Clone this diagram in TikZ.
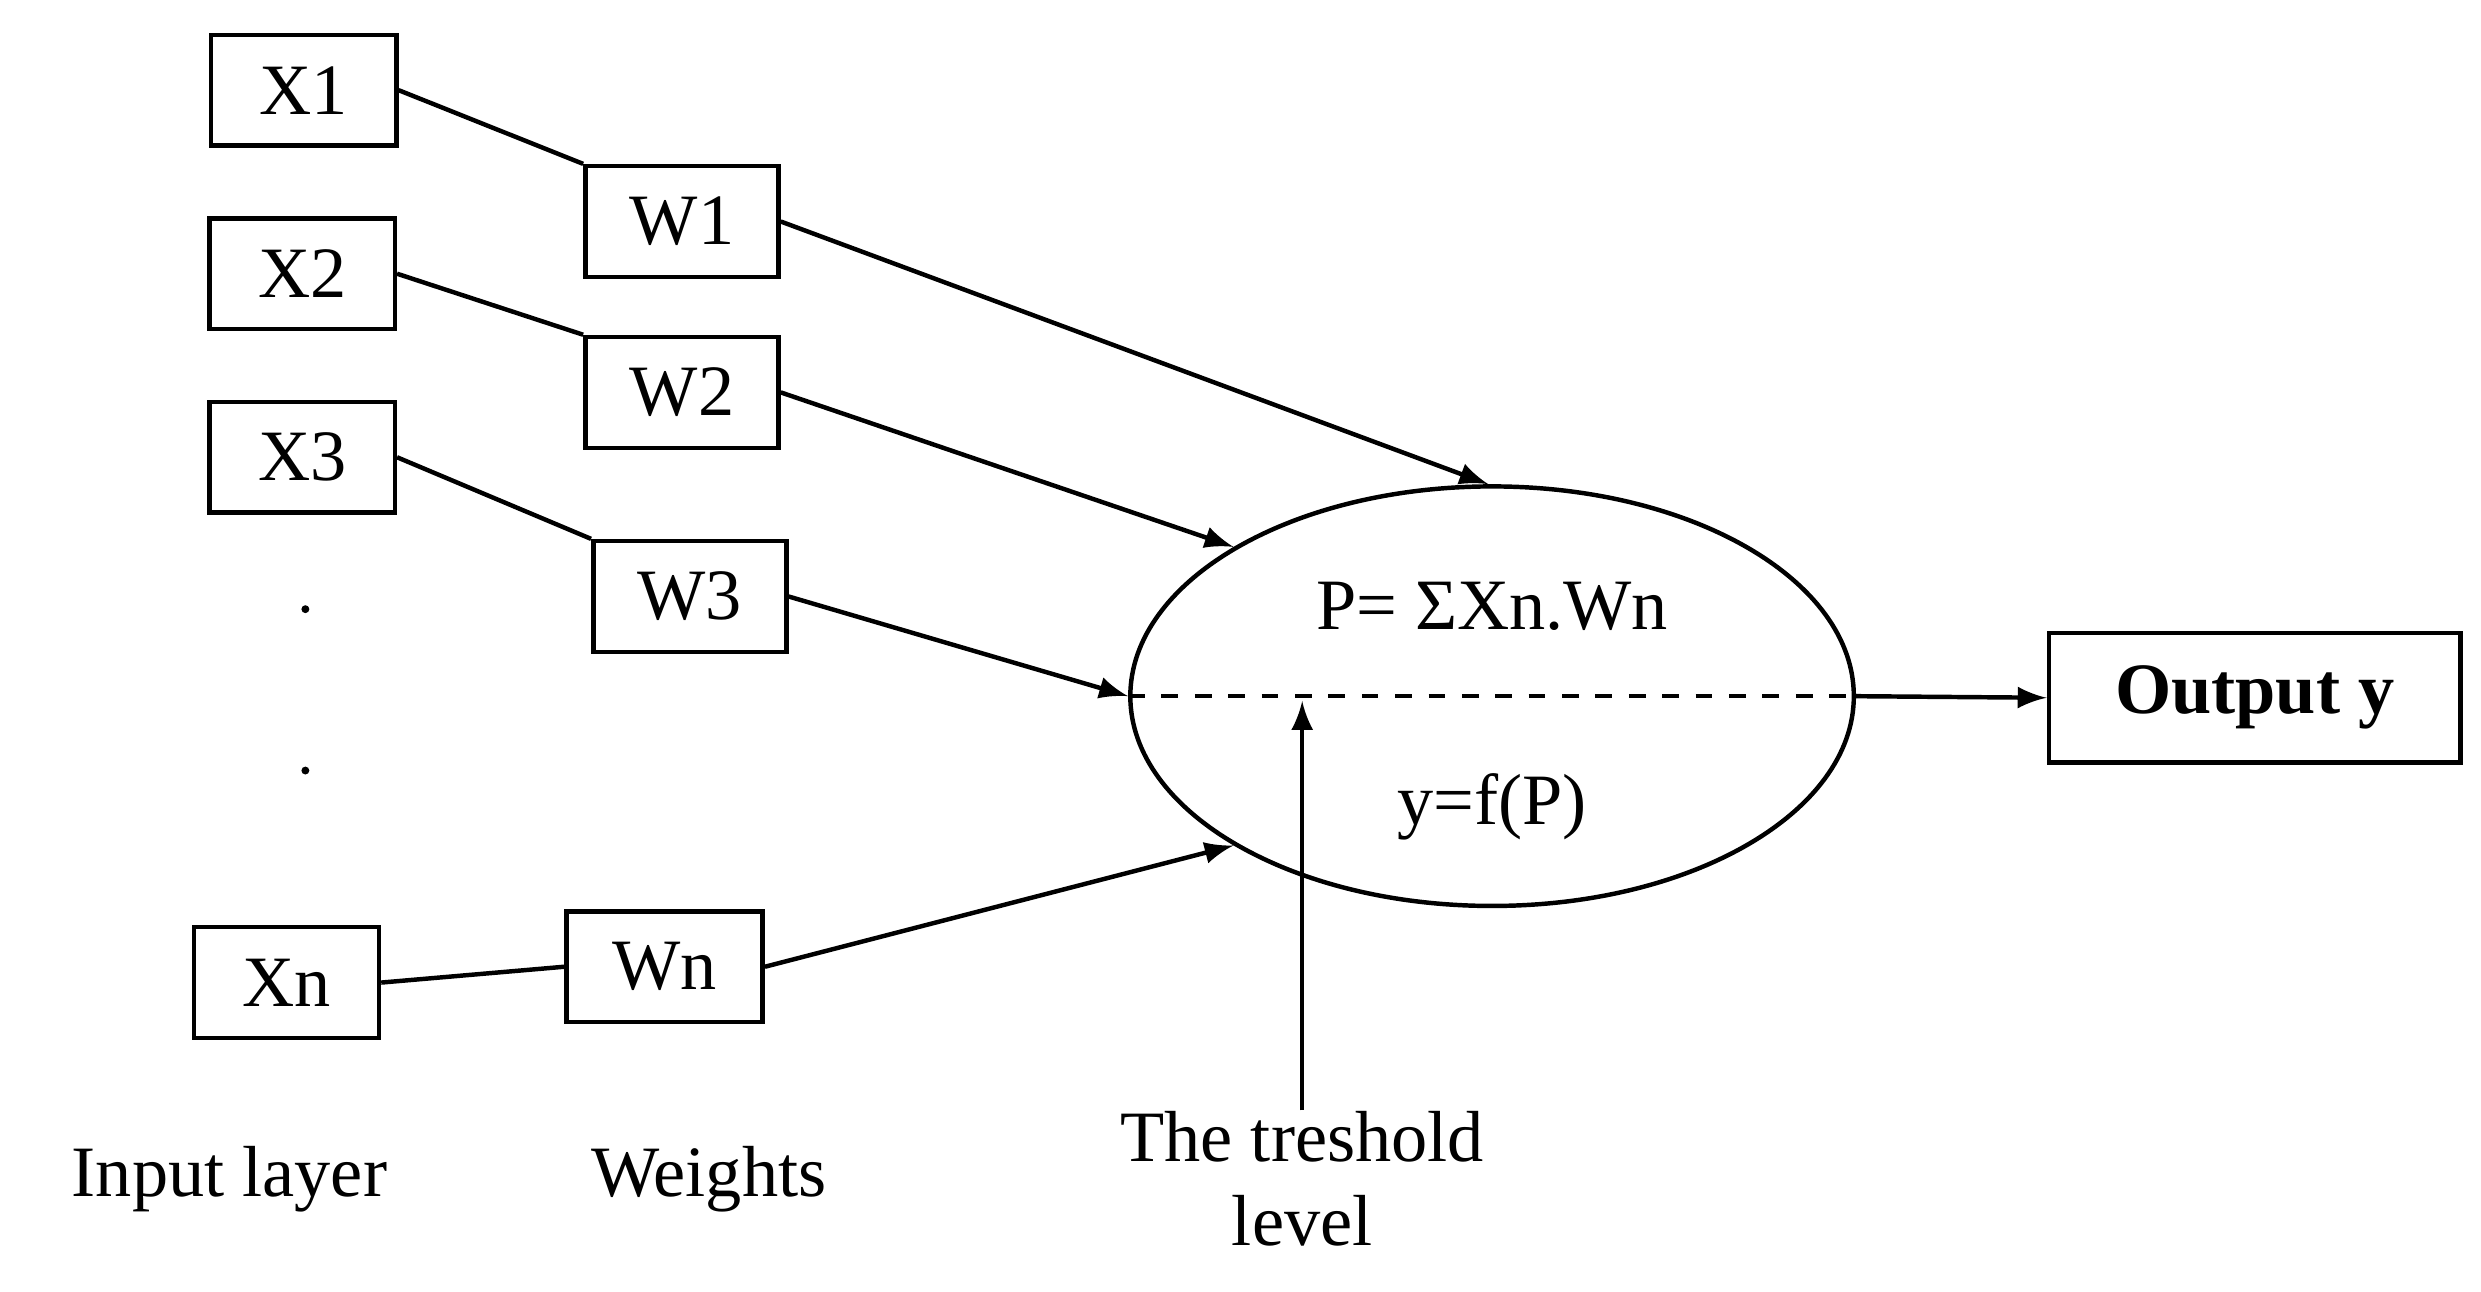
\documentclass[tikz,border=0pt]{standalone}
\usepackage{fontspec}
\setmainfont{Liberation Serif}
\usetikzlibrary{shapes.geometric}
\begin{document}
\begin{tikzpicture}[x=0.01cm,y=-0.01cm,
  box/.style={draw,thick,minimum width=1.17cm,minimum height=0.7cm,inner sep=0pt,font=\fontsize{13}{15}\selectfont},
  lbl/.style={font=\fontsize{13}{15}\selectfont,align=center},
  >=latex]
\useasboundingbox (0,0) rectangle (1568,816);
%inputs
\node[box] (X1) at (192,57) {X1};
\node[box] (X2) at (191,173) {X2};
\node[box] (X3) at (191,289) {X3};
\node[box] (Xn) at (181,621) {Xn};
\fill (193,385) circle (2.5) (193,487) circle (2.5);
%weights
\node[box,minimum width=1.22cm] (W1) at (431,140) {W1};
\node[box,minimum width=1.22cm] (W2) at (431,248) {W2};
\node[box,minimum width=1.22cm] (W3) at (436,377) {W3};
\node[box,minimum width=1.24cm] (Wn) at (420,611) {Wn};
%neuron
\node[draw,thick,ellipse,minimum width=4.57cm,minimum height=2.65cm,inner sep=0pt] (N) at (943,440) {};
\draw[thick,dashed] (N.west) -- (N.east);
\node[lbl] (P) at (943,383) {P= ΣXn.Wn};
\node[lbl] (F) at (943,510) {y=f(P)};
\node[box,font=\fontsize{13}{15}\selectfont\bfseries,minimum width=2.6cm,minimum height=0.82cm] (Y) at (1425,441) {Output y};
%labels
\node[lbl] (IL) at (145,745) {Input layer};
\node[lbl] (WL) at (448,745) {Weights};
\node[lbl,inner sep=0pt] (T) at (823,745) {The treshold\\level};
\coordinate (Tp) at (823,443);
%connections
\draw[thick] (X1.east) -- (W1.north west);
\draw[thick] (X2.east) -- (W2.north west);
\draw[thick] (X3.east) -- (W3.north west);
\draw[thick] (Xn.east) -- (Wn.west);
\draw[thick,->] (W1.east) -- (N.91);
\draw[thick,->] (W2.east) -- (N.150);
\draw[thick,->] (W3.east) -- (N.west);
\draw[thick,->] (Wn.east) -- (N.210);
\draw[thick,->] (N.east) -- (Y.west);
\draw[thick,->] (T.north) -- (Tp);
\end{tikzpicture}
\end{document}
